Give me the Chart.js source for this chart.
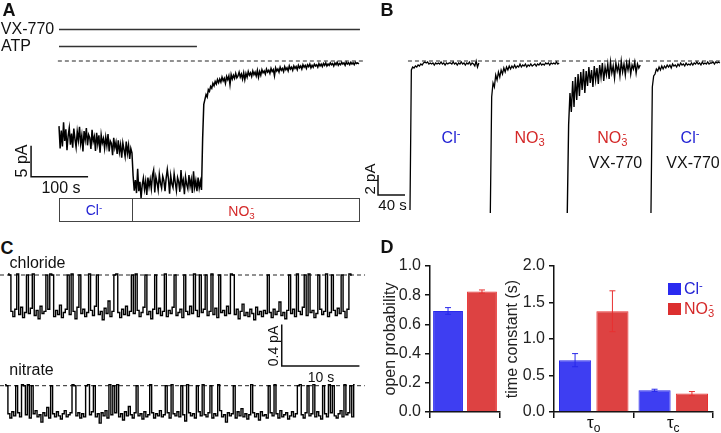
<!DOCTYPE html>
<html><head><meta charset="utf-8">
<script src="https://cdn.jsdelivr.net/npm/chart.js@4.4.1/dist/chart.umd.min.js"></script>
<style>
html,body{margin:0;padding:0;background:#fff;}
#fig{position:relative;width:721px;height:433px;overflow:hidden;font-family:"Liberation Sans",Arial,sans-serif;color:#111;}
canvas{position:absolute;}
.t{position:absolute;white-space:nowrap;line-height:1;transform:translate(-50%,-50%);font-size:16px;}
.tl{position:absolute;white-space:nowrap;line-height:1;transform:translate(0,-50%);font-size:16px;}
.rot{transform:translate(-50%,-50%) rotate(-90deg);}
.sp{font-size:0.7em;position:relative;top:-0.45em;}
.sb{font-size:0.7em;position:relative;top:0.3em;}
.sp2{font-size:0.7em;position:relative;top:-0.5em;margin-left:-0.45em;}
.blue{color:#2323d4;} .red{color:#d42828;}
.bold{font-weight:bold;font-size:18px;}
.sq{position:absolute;width:13px;height:12px;}
</style></head><body><div id="fig">
<canvas id="cA" width="370" height="232" style="left:0;top:0"></canvas>
<canvas id="cB" width="361" height="190" style="left:360px;top:40px"></canvas>
<canvas id="cC1" width="370" height="110" style="left:0;top:262px"></canvas>
<canvas id="cC2" width="370" height="55" style="left:0;top:378px"></canvas>
<canvas id="cD1" width="122" height="183" style="left:380px;top:250px"></canvas>
<canvas id="cD2" width="219" height="183" style="left:502px;top:250px"></canvas>

<div class="t bold" style="left:9px;top:9.5px">A</div>
<div class="t bold" style="left:387px;top:9.5px">B</div>
<div class="t bold" style="left:7px;top:248px">C</div>
<div class="t bold" style="left:387px;top:247px">D</div>

<div class="t" style="left:27.5px;top:29px">VX-770</div>
<div class="t" style="left:16px;top:46px">ATP</div>
<div class="t rot" style="left:21.5px;top:161px">5 pA</div>
<div class="t" style="left:61px;top:187.5px">100 s</div>
<div class="t blue" style="left:94px;top:210px;font-size:14px">Cl<span class="sp">-</span></div>
<div class="t red" style="left:241px;top:211px;font-size:14px">NO<span class="sb">3</span><span class="sp2">-</span></div>

<div class="t blue" style="left:451px;top:137.5px">Cl<span class="sp">-</span></div>
<div class="t red" style="left:529px;top:138px">NO<span class="sb">3</span><span class="sp2">-</span></div>
<div class="t red" style="left:611.7px;top:138px">NO<span class="sb">3</span><span class="sp2">-</span></div>
<div class="t" style="left:615.5px;top:163px">VX-770</div>
<div class="t blue" style="left:690px;top:137.5px">Cl<span class="sp">-</span></div>
<div class="t" style="left:693px;top:163px">VX-770</div>
<div class="t rot" style="left:369px;top:179px;font-size:15px">2 pA</div>
<div class="t" style="left:392.5px;top:203.5px;font-size:15px">40 s</div>

<div class="t" style="left:37.5px;top:263px">chloride</div>
<div class="t rot" style="left:272.5px;top:346px;font-size:14px">0.4 pA</div>
<div class="t" style="left:321px;top:376.5px;font-size:14px">10 s</div>
<div class="t" style="left:31.5px;top:370px">nitrate</div>

<div class="sq" style="left:668px;top:283px;background:#2a2af0"></div>
<div class="sq" style="left:668px;top:303px;background:#dc2f2f"></div>
<div class="tl blue" style="left:684px;top:289px">Cl<span class="sp">-</span></div>
<div class="tl red" style="left:684px;top:309px">NO<span class="sb">3</span><span class="sp2">-</span></div>
<div class="t" id="tauO" style="left:598px;top:422px;font-size:17px">τ<span class="sb" style="font-size:12px">o</span></div>
<div class="t" id="tauC" style="left:673px;top:422px;font-size:17px">τ<span class="sb" style="font-size:12px">c</span></div>
</div>
<script>
// ================= DATA =================
// Panel A: macroscopic current (pA), one sample every aDt seconds
const aDt = 2;
const aCurrent = [
-10.5,-14.1,-11.2,-13.8,-9.9,-12.9,-11.0,-14.4,-12.1,-10.8,
-13.5,-11.7,-14.0,-10.9,-12.6,-13.9,-11.4,-12.8,-10.6,-13.3,
-12.0,-14.6,-11.3,-12.7,-10.8,-13.6,-11.9,-12.4,-14.2,-11.1,
-13.0,-12.2,-14.5,-11.6,-13.4,-12.0,-14.8,-11.9,-13.2,-12.5,
-14.1,-12.3,-13.7,-11.8,-14.6,-12.9,-13.3,-15.2,-12.4,-14.0,
-13.1,-15.0,-12.8,-14.7,-13.5,-15.6,-13.2,-14.3,-15.4,-13.0,
-14.9,-13.6,-15.8,-14.1,-14.8,
-18.5,-20.9,-19.2,-21.3,-17.4,
-21.0,-19.5,-22.1,-20.0,-18.9,-20.7,-19.4,-21.6,-18.8,-20.3,
-19.1,-20.6,-18.4,-17.6,-21.2,-18.7,-19.6,-20.8,-18.3,-19.7,
-20.5,-18.6,-19.3,-21.0,-18.9,-17.5,-19.0,-21.4,-18.5,-19.8,
-20.4,-18.2,-19.6,-20.9,-18.8,-19.5,-21.1,-17.6,-20.0,-19.2,
-21.5,-18.7,-19.9,-20.6,-18.4,-20.2,-19.1,-21.3,-17.8,-20.4,
-19.3,-21.0,-18.8,-20.5,-19.4,-20.8,
-12.5,-7.0,-6.2,-5.4,-5.8,-4.6,-4.9,-4.1,-4.4,-3.6,
-4.0,-3.3,-3.7,-3.0,-3.5,-2.9,-3.4,-2.6,-3.2,-2.8,
-3.6,-2.5,-3.0,-2.4,-3.8,-2.2,-2.9,-2.3,-2.8,-2.0,
-2.7,-2.4,-1.8,-2.6,-2.1,-2.9,-1.9,-3.0,-2.0,-2.6,
-1.7,-2.3,-1.9,-2.5,-1.6,-2.2,-1.8,-2.4,-1.5,-2.6,
-1.7,-2.3,-1.4,-1.9,-1.6,-2.1,-1.3,-1.8,-1.5,-2.0,
-1.2,-1.7,-1.4,-2.4,-1.1,-1.6,-1.3,-1.8,-1.0,-1.5,
-1.2,-1.7,-0.9,-1.4,-1.1,-1.6,-0.8,-1.3,-1.0,-1.5,
-0.8,-1.2,-0.9,-1.4,-0.7,-1.1,-0.8,-1.3,-0.6,-1.0,
-0.7,-1.2,-0.6,-0.9,-0.5,-1.1,-0.7,-1.0,-0.5,-0.8,
-0.6,-1.0,-0.4,-0.8,-0.5,-0.9,-0.4,-0.7,-0.3,-0.8,
-0.5,-0.7,-0.3,-0.6,-0.4,-0.8,-0.3,-0.6,-0.2,-0.7,
-0.4,-0.6,-0.2,-0.5,-0.3,-0.7,-0.2,-0.5,-0.3,-0.6,
-0.2,-0.5,-0.3,-0.6,-0.2,-0.4,-0.3,-0.5
];
// Panel A protocol bars (s)
const aVX770 = [0, 528];
const aATP = [0, 242];
const aSolCl = [0, 128];
const aSolNO3 = [128, 527];

// Panel B: current relaxations (pA), one sample every bDt seconds
const bDt = 2;
const bCl = [-14.9,-0.9,-0.6,-0.7,-0.5,-0.6,-0.4,-0.5,-0.3,-0.4,-0.2,-0.1,-0.2,-0.1,-0.3,-0.2,-0.3,-0.2,-0.4,-0.2,-0.3,-0.2,-0.3,-0.1,-0.3,-0.2,-0.4,-0.2,-0.3,-0.2,-0.2,-0.3,-0.1,-0.3,-0.2,-0.4,-0.2,-0.3,-0.1,-0.3,-0.2,-0.4,-0.2,-0.3,-0.1,-0.4,-0.2,-0.3,-0.5,0.0,-0.6,-0.2];
const bNO3 = [-15.2,-3.6,-2.2,-2.6,-1.4,-1.9,-1.1,-1.6,-0.9,-1.3,-0.7,-1.1,-0.6,-0.9,-0.5,-0.8,-0.5,-0.7,-0.4,-0.7,-0.5,-0.6,-0.3,-0.6,-0.4,-0.5,-0.3,-0.6,-0.4,-0.5,-0.3,-0.5,-0.4,-0.3,-0.5,-0.3,-0.4,-0.2,-0.4,-0.3,-0.4,-0.2,-0.3,-0.2,-0.4,-0.2,-0.3,-0.2,-0.3,-0.1,-0.3,-0.2];
const bNO3VX = [-15.2,-6.4,-3.2,-5.1,-2.0,-4.6,-1.6,-3.9,-1.3,-3.5,-1.1,-2.9,-0.8,-3.2,-1.0,-2.5,-0.6,-2.2,-0.9,-2.6,-0.5,-1.9,-0.7,-2.3,-0.4,-1.6,-0.2,-2.0,-0.6,-1.4,-0.3,-1.8,-0.1,-1.2,-0.5,-1.7,-0.2,-1.0,-0.4,-1.5,0.0,-1.1,-0.3,-1.4,-0.2,-0.9,-0.1,-1.3,-0.4,-0.8,-0.1,-1.2,-0.3,-0.7,-0.4];
const bClVX = [-15.2,-2.6,-1.5,-1.3,-0.8,-1.0,-0.6,-0.9,-0.5,-0.8,-0.5,-0.7,-0.4,-0.6,-0.4,-0.7,-0.3,-0.5,-0.4,-0.6,-0.3,-0.5,-0.2,-0.4,-0.3,-0.5,-0.2,-0.4,-0.3,-0.4,-0.2,-0.4,-0.2,-0.3,-0.1,-0.3,-0.2,-0.4,-0.1,-0.3,-0.2,-0.3,-0.1,-0.3,-0.2,-0.2,-0.1,-0.3,-0.1,-0.2,-0.1,-0.2];

// Panel C: single-channel currents (pA), one sample every cDt seconds
const cDt = 0.25;
const cChloride = [
.01,0,-.35,-.40,-.33,.01,-.38,-.31,-.41,-.36,
0,-.37,-.32,.01,-.39,-.34,-.42,-.30,-.37,-.35,
0,-.33,.01,0,-.40,-.34,-.38,-.29,-.41,-.36,
-.33,0,-.38,.01,-.35,-.42,-.31,0,-.37,-.33,
-.40,-.36,.01,-.34,-.39,-.30,0,-.38,-.35,-.43,
-.32,-.37,-.25,-.40,-.35,0,.01,-.36,-.41,-.33,
-.38,-.30,-.39,-.35,0,-.37,.01,-.34,-.40,-.36,
-.31,0,-.38,-.35,-.42,-.33,0,-.37,-.32,-.39,
-.35,.01,-.40,-.34,-.37,-.31,0,-.39,-.36,-.33,
-.41,0,-.35,-.38,-.30,-.37,.01,-.34,-.40,0,
-.36,-.33,0,-.39,-.35,.01,-.38,-.32,-.41,0,
-.36,-.34,-.39,-.30,-.37,.01,0,-.38,-.33,-.42,
-.35,-.28,-.39,-.36,-.40,-.33,-.37,-.43,-.31,-.38,
-.35,-.40,-.34,-.37,0,-.36,-.41,-.33,-.38,-.35,
-.26,-.39,-.36,-.42,-.34,0,-.37,-.33,-.40,.01,
-.35,-.38,-.31,0,-.39,.01,-.36,-.34,-.41,-.37,
0,-.33,-.38,-.35,.01,-.40,-.36,0,-.34,-.39,
-.32,-.37,0,-.35,-.41,-.33,.01,0
];
const cNitrate = [
.01,0,-.27,-.31,-.25,-.29,0,-.26,-.30,.01,
0,-.28,.01,-.31,0,-.27,-.24,-.30,-.28,-.35,
-.26,-.29,-.21,-.31,0,-.27,-.30,-.25,-.29,-.32,
-.27,-.24,-.30,-.28,-.26,.01,0,-.29,-.26,-.31,
-.27,-.30,0,.01,-.28,-.25,0,-.30,-.27,-.36,
-.26,-.29,-.24,-.31,.01,-.28,0,-.26,.01,-.30,
-.27,-.33,-.25,-.29,-.20,-.28,-.31,-.26,0,-.29,
-.27,-.32,-.25,-.30,-.28,.01,-.26,-.31,-.27,-.29,
-.24,-.30,-.28,0,-.26,-.31,.01,-.27,-.29,-.25,
-.30,0,-.28,-.34,.01,-.26,-.29,-.27,-.31,0,
-.25,-.29,.01,-.28,-.30,-.26,0,-.31,-.27,-.29,
.01,-.24,-.30,-.28,-.35,-.26,-.29,-.27,0,-.31,
-.25,-.29,-.22,-.30,-.27,-.32,-.28,.01,-.26,-.30,
-.27,-.33,-.25,-.29,-.28,-.31,0,-.26,-.29,.01,
-.27,-.31,-.24,-.30,-.28,-.26,-.32,-.29,-.25,-.30,
-.27,0,.01,-.28,-.31,-.26,0,-.29,-.27,.01,
-.30,-.25,-.29,-.32,0,-.27,-.30,.01,-.26,0,
-.29,-.31,-.27,-.24,-.30,.01,-.28,-.26,0,-.30,.01
];

// Panel D: bar values (mean, SEM)
const dIons = ['Cl⁻', 'NO₃⁻'];
const dPo = [0.692, 0.825];
const dPoErr = [0.023, 0.011];
const dPoTicks = [0, 0.2, 0.4, 0.6, 0.8, 1.0];
const dTauCats = ['τo', 'τc'];
const dTauCl = [0.71, 0.297];
const dTauClErr = [0.09, 0.015];
const dTauNO3 = [1.38, 0.252];
const dTauNO3Err = [0.28, 0.028];
const dTauTicks = [0, 0.5, 1.0, 1.5, 2.0];

// ================= LAYOUT / STYLE =================
const FONT = '"Liberation Sans", Arial, sans-serif';
const INK = '#111';
const BLUE = 'rgb(62,62,242)', BLUE_E = 'rgb(40,40,235)';
const RED = 'rgb(221,66,66)', RED_E = 'rgb(232,48,48)';
// geometry: canvas pixel of t=0 (x0), of zero current (y0), px per unit
const GEO_A = {x0: 59, sx: 0.57, y0: 61, sy: 6.2};
const GEO_B = {x0: 50, sx: 0.675, y0: 21, sy: 10};
const GEO_C1 = {x0: 8, sx: 7.77, y0: 13, sy: 104};
const GEO_C2 = {x0: 5, sx: 7.77, y0: 7.7, sy: 104};
const B_SWEEP_START = [0, 119, 233, 357]; // s, horizontal placement of sweeps
const BASE_A = [-2, 537], BASE_B = [-3, 459], BASE_C1 = [-1.03, 45.95], BASE_C2 = [-0.64, 46.3];
const BAR_A = {t: -49, i: -18.66, dt: 100, di: 5};
const BAR_B = {t: -47.4, i: -13.4, dt: 40, di: 2};
const BAR_C = {t: 35.23, i: -0.875, dt: 10, di: 0.4};

function toPts(arr, dt, t0) { return arr.map((v, i) => ({x: t0 + i * dt, y: v})); }
function traceDs(pts, width, stepped) {
  return {data: pts, borderColor: '#000', borderWidth: width || 1, pointRadius: 0, tension: 0, fill: false, stepped: stepped || false};
}
function baseDs(ext) {
  return {data: [{x: ext[0], y: 0}, {x: ext[1], y: 0}], borderColor: '#222', borderWidth: 1, borderDash: [4, 3], pointRadius: 0, fill: false};
}
function scaleBarPlugin(b) {
  return {id: 'sbar', afterDatasetsDraw(chart) {
    const {x, y} = chart.scales, ctx = chart.ctx;
    const x0 = x.getPixelForValue(b.t), y0 = y.getPixelForValue(b.i);
    const x1 = x.getPixelForValue(b.t + b.dt), y1 = y.getPixelForValue(b.i + b.di);
    ctx.save(); ctx.strokeStyle = INK; ctx.lineWidth = 1.5;
    ctx.beginPath(); ctx.moveTo(x0, y1); ctx.lineTo(x0, y0); ctx.lineTo(x1, y0); ctx.stroke();
    ctx.restore();
  }};
}
function makeTrace(id, geo, datasets, plugins) {
  const cv = document.getElementById(id);
  const w = cv.width, h = cv.height;
  return new Chart(cv, {
    type: 'line', data: {datasets},
    options: {
      responsive: false, animation: false, events: [],
      layout: {padding: 0},
      plugins: {legend: {display: false}, tooltip: {enabled: false}},
      scales: {
        x: {type: 'linear', display: false, min: -geo.x0 / geo.sx, max: (w - geo.x0) / geo.sx},
        y: {type: 'linear', display: false, min: -(h - geo.y0) / geo.sy, max: geo.y0 / geo.sy}
      }
    },
    plugins: plugins || []
  });
}

// ---------- Panel A ----------
const protocolPlugin = {id: 'protocol', afterDatasetsDraw(chart) {
  const xs = chart.scales.x, ctx = chart.ctx;
  const px = v => xs.getPixelForValue(v);
  ctx.save(); ctx.strokeStyle = '#333'; ctx.lineWidth = 1.3;
  ctx.beginPath(); ctx.moveTo(px(aVX770[0]), 29.5); ctx.lineTo(px(aVX770[1]), 29.5); ctx.stroke();
  ctx.beginPath(); ctx.moveTo(px(aATP[0]), 46.5); ctx.lineTo(px(aATP[1]), 46.5); ctx.stroke();
  ctx.lineWidth = 1; ctx.strokeStyle = '#444';
  ctx.strokeRect(Math.round(px(aSolCl[0])) + 0.5, 198.5, Math.round(px(aSolNO3[1]) - px(aSolCl[0])), 23);
  ctx.beginPath(); ctx.moveTo(Math.round(px(aSolCl[1])) + 0.5, 198.5); ctx.lineTo(Math.round(px(aSolCl[1])) + 0.5, 221.5); ctx.stroke();
  ctx.restore();
}};
makeTrace('cA', GEO_A, [traceDs(toPts(aCurrent, aDt, 0), 1.5), baseDs(BASE_A)], [protocolPlugin, scaleBarPlugin(BAR_A)]);

// ---------- Panel B ----------
makeTrace('cB', GEO_B, [
  traceDs(toPts(bCl, bDt, B_SWEEP_START[0]), 1.3),
  traceDs(toPts(bNO3, bDt, B_SWEEP_START[1]), 1.3),
  traceDs(toPts(bNO3VX, bDt, B_SWEEP_START[2]), 1.4),
  traceDs(toPts(bClVX, bDt, B_SWEEP_START[3]), 1.3),
  baseDs(BASE_B)
], [scaleBarPlugin(BAR_B)]);

// ---------- Panel C ----------
makeTrace('cC1', GEO_C1, [traceDs(toPts(cChloride, cDt, 0), 1.4, 'middle'), baseDs(BASE_C1)], [scaleBarPlugin(BAR_C)]);
makeTrace('cC2', GEO_C2, [traceDs(toPts(cNitrate, cDt, 0), 1.4, 'middle'), baseDs(BASE_C2)]);

// ---------- Panel D ----------
function errorBarPlugin() {
  return {id: 'errbars', afterDatasetsDraw(chart) {
    const ctx = chart.ctx, ys = chart.scales.y;
    chart.data.datasets.forEach((ds, i) => {
      const meta = chart.getDatasetMeta(i);
      meta.data.forEach((bar, j) => {
        const v = ds.data[j], e = ds.errors[j];
        const yt = ys.getPixelForValue(v + e), yb = ys.getPixelForValue(v - e);
        ctx.save(); ctx.strokeStyle = ds.borderColor; ctx.lineWidth = 1;
        ctx.beginPath();
        ctx.moveTo(bar.x, yt); ctx.lineTo(bar.x, yb);
        ctx.moveTo(bar.x - 3, yt); ctx.lineTo(bar.x + 3, yt);
        ctx.moveTo(bar.x - 3, yb); ctx.lineTo(bar.x + 3, yb);
        ctx.stroke(); ctx.restore();
      });
    });
  }};
}
function barOptions(ticksArr, max, title, axisW, padRight, catPct, barPct) {
  return {
    responsive: false, animation: false, events: [],
    layout: {padding: {top: 16, right: padRight, left: 0, bottom: 0}},
    plugins: {legend: {display: false}, tooltip: {enabled: false}},
    datasets: {bar: {categoryPercentage: catPct, barPercentage: barPct}},
    scales: {
      x: {type: 'category', offset: true,
          grid: {offset: true, drawOnChartArea: false, drawTicks: true, tickLength: 6, color: INK, lineWidth: 1.5},
          border: {display: true, color: INK, width: 1.5},
          ticks: {display: false},
          afterFit(s) { s.height = 21; }},
      y: {type: 'linear', min: 0, max: max,
          afterBuildTicks(s) { s.ticks = ticksArr.map(v => ({value: v})); },
          ticks: {color: '#222', font: {family: FONT, size: 16}, padding: 4, callback: v => Number(v).toFixed(1)},
          grid: {drawOnChartArea: false, tickLength: 5, color: INK, lineWidth: 1.5},
          border: {display: true, color: INK, width: 1.5},
          title: {display: true, text: title, color: '#222', font: {family: FONT, size: 16}, padding: {top: 1, bottom: 0}},
          afterFit(s) { s.width = axisW; }}
    }
  };
}
new Chart(document.getElementById('cD1'), {
  type: 'bar',
  data: {labels: [''], datasets: [
    {label: dIons[0], data: [dPo[0]], errors: [dPoErr[0]], backgroundColor: BLUE, borderColor: BLUE_E, borderWidth: 1},
    {label: dIons[1], data: [dPo[1]], errors: [dPoErr[1]], backgroundColor: RED, borderColor: RED_E, borderWidth: 1}
  ]},
  options: barOptions(dPoTicks, 1.0, 'open probability', 50, 2, 0.97, 0.88),
  plugins: [errorBarPlugin()]
});
const tauLabelPlugin = {id: 'taulbl', afterDraw(chart) {
  const xs = chart.scales.x, left = 502;
  document.getElementById('tauO').style.left = (left + xs.getPixelForValue(0)) + 'px';
  document.getElementById('tauC').style.left = (left + xs.getPixelForValue(1)) + 'px';
}};
new Chart(document.getElementById('cD2'), {
  type: 'bar',
  data: {labels: dTauCats, datasets: [
    {label: dIons[0], data: dTauCl, errors: dTauClErr, backgroundColor: BLUE, borderColor: BLUE_E, borderWidth: 1},
    {label: dIons[1], data: dTauNO3, errors: dTauNO3Err, backgroundColor: RED, borderColor: RED_E, borderWidth: 1}
  ]},
  options: barOptions(dTauTicks, 2.0, 'time constant (s)', 52, 8, 0.94, 0.86),
  plugins: [errorBarPlugin(), tauLabelPlugin]
});
</script>
</body></html>
